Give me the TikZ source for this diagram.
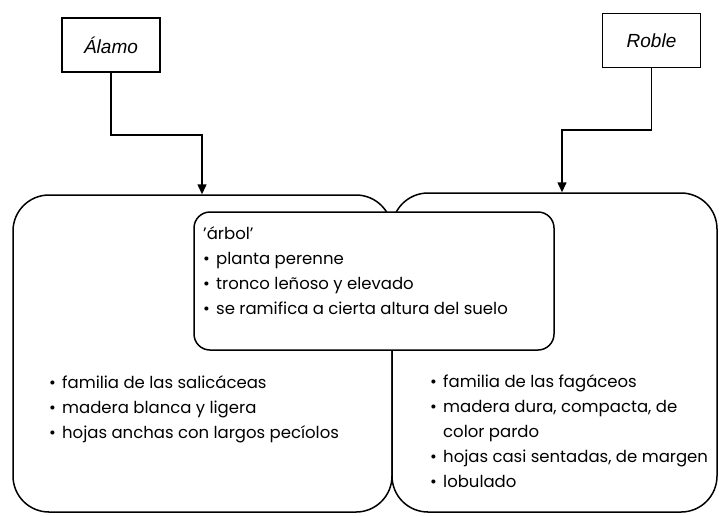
\documentclass[tikz,border=0pt]{standalone}
\usepackage{fontspec}
\setmainfont{Poppins}
\newfontfamily\labelfont{Liberation Sans}
\usetikzlibrary{arrows.meta,positioning}
\newcommand{\itm}{\makebox[13pt][l]{\textbullet}}
\tikzstyle{tree}=[
	rectangle,
	draw,
	line width=1.5pt,
	minimum width=98pt,
	minimum height=54pt,
	font=\labelfont\itshape\fontsize{19}{22}\selectfont
]
\tikzstyle{group}=[
	rectangle,
	draw,
	line width=1.5pt,
	rounded corners=36pt
]
\tikzstyle{core}=[
	rectangle,
	draw,
	fill=white,
	line width=1.5pt,
	rounded corners=16pt,
	minimum width=360pt,
	minimum height=138pt
]
\tikzstyle{traits}=[
	align=left,
	inner sep=0pt,
	anchor=north west,
	font=\fontsize{16.5}{25}\selectfont
]
\tikzstyle{link}=[
	-{Triangle[length=10pt,width=9pt]},
	line width=1.5pt
]

\begin{document}
\begin{tikzpicture}[x=1pt,y=-1pt]
\useasboundingbox (0,0) rectangle (719,515);
\node [tree] (Alamo) at (111,45) {Álamo};
\node [tree] (Roble) at (651.5,40.5) {Roble};
\node [group, minimum width=379pt, minimum height=317pt] (AlamoGroup) at (202.5,353.5) {};
\node [group, minimum width=325pt, minimum height=319pt] (RobleGroup) at (554.5,352.5) {};
\node [core] (Arbol) at (374,281) {};
\node [traits] (ArbolTraits) at (203,226.5)
	{'árbol'\\
	\itm planta perenne\\
	\itm tronco leñoso y elevado\\
	\itm se ramifica a cierta altura del suelo};
\node [traits] (AlamoTraits) at (49,375)
	{\itm familia de las salicáceas\\
	\itm madera blanca y ligera\\
	\itm hojas anchas con largos pecíolos};
\node [traits] (RobleTraits) at (430,374)
	{\itm familia de las fagáceos\\
	\itm madera dura, compacta, de\\
	\phantom{\itm}color pardo\\
	\itm hojas casi sentadas, de margen\\
	\itm lobulado};
\coordinate (AlamoBend) at (202,135);
\coordinate (RobleBend) at (562,130);
\draw [link] (Alamo.south) |- (AlamoBend) -- (AlamoGroup.north -| AlamoBend);
\draw [link] (Roble.south) |- (RobleBend) -- (RobleGroup.north -| RobleBend);
\end{tikzpicture}
\end{document}
